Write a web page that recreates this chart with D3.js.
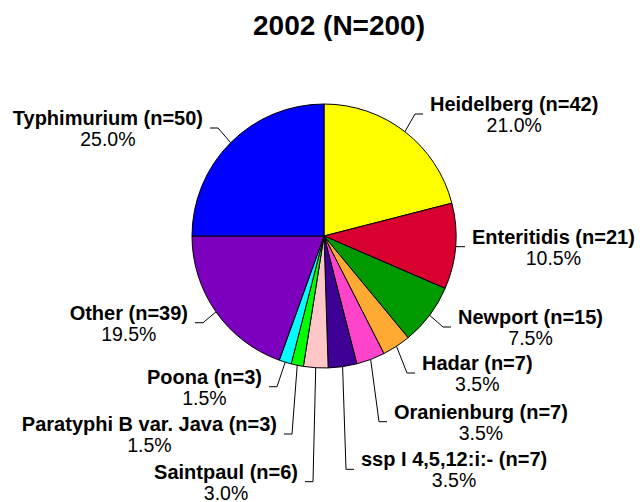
<!DOCTYPE html>
<html>
<head>
    <title>2002 (N=200)</title>
    <script src="https://d3js.org/d3.v7.min.js"></script>
    <style>
        body { margin: 0; background: #fff; }
    </style>
</head>
<body>
<script>
    var w = 643;
    var h = 502;

    // data, clockwise from 12 o'clock
    var serotypes = ["Heidelberg", "Enteritidis", "Newport", "Hadar", "Oranienburg",
                     "ssp I 4,5,12:i:-", "Saintpaul", "Paratyphi B var. Java", "Poona",
                     "Other", "Typhimurium"];
    var counts = [42, 21, 15, 7, 7, 7, 6, 3, 3, 39, 50];
    var colors = ["#ffff00", "#d8002f", "#009900", "#ffaa33", "#ff44cc",
                  "#3f0095", "#ffc6c8", "#00ff00", "#00ffff", "#7d00bf", "#0000ff"];
    var total = d3.sum(counts);

    // label placement: [y of leader's horizontal run, x of the elbow]
    var labelLayout = [[114, 415], [246.7, 457], [327, 443], [373, 407], [421.7, 379],
                       [469.3, 346], [481.7, 313], [434, 292], [386.7, 277],
                       [322.7, 203], [128, 218]];

    var cx = 324, cy = 236, r = 132;

    var svg = d3.select("body")
                .append("svg")
                .attr("width", w)
                .attr("height", h)
                .style("font-family", "'Liberation Sans', Arial, sans-serif");

    svg.append("text")
       .attr("x", 339)
       .attr("y", 35)
       .attr("text-anchor", "middle")
       .attr("font-size", "28px")
       .attr("font-weight", "bold")
       .text("2002 (N=" + total + ")");

    var pie = d3.pie().sort(null).value(function(d){ return d; });
    var arcs = pie(counts);
    var arc = d3.arc().innerRadius(0).outerRadius(r);

    var g = svg.append("g").attr("transform", "translate(" + cx + "," + cy + ")");
    g.selectAll("path")
     .data(arcs)
     .enter()
     .append("path")
     .attr("d", arc)
     .attr("fill", function(d, i){ return colors[i]; })
     .attr("stroke", "#000")
     .attr("stroke-width", 1);

    // leader lines and labels
    arcs.forEach(function(d, i) {
        var mid = (d.startAngle + d.endAngle) / 2;
        var x0 = cx + r * Math.sin(mid);
        var y0 = cy - r * Math.cos(mid);
        var right = mid < Math.PI;
        var ly = labelLayout[i][0];
        var ex = labelLayout[i][1];
        var endX = right ? ex + 8 : ex - 8;

        svg.append("polyline")
           .attr("points", [[x0, y0], [ex, ly], [endX, ly]].map(function(p){ return p.join(","); }).join(" "))
           .attr("fill", "none")
           .attr("stroke", "#000")
           .attr("stroke-width", 1);

        var tx = right ? endX + 7 : endX - 7;
        var name = svg.append("text")
           .attr("x", tx)
           .attr("y", ly - 3)
           .attr("text-anchor", right ? "start" : "end")
           .attr("font-size", "20px")
           .attr("font-weight", "bold")
           .attr("fill", "#000")
           .text(serotypes[i] + " (n=" + counts[i] + ")");

        var tw = name.node().getComputedTextLength();
        var mx = right ? tx + tw / 2 : tx - tw / 2;
        svg.append("text")
           .attr("x", mx)
           .attr("y", ly - 3 + 21)
           .attr("text-anchor", "middle")
           .attr("font-size", "19.5px")
           .attr("fill", "#000")
           .text((counts[i] / total * 100).toFixed(1) + "%");
    });
</script>
</body>
</html>
